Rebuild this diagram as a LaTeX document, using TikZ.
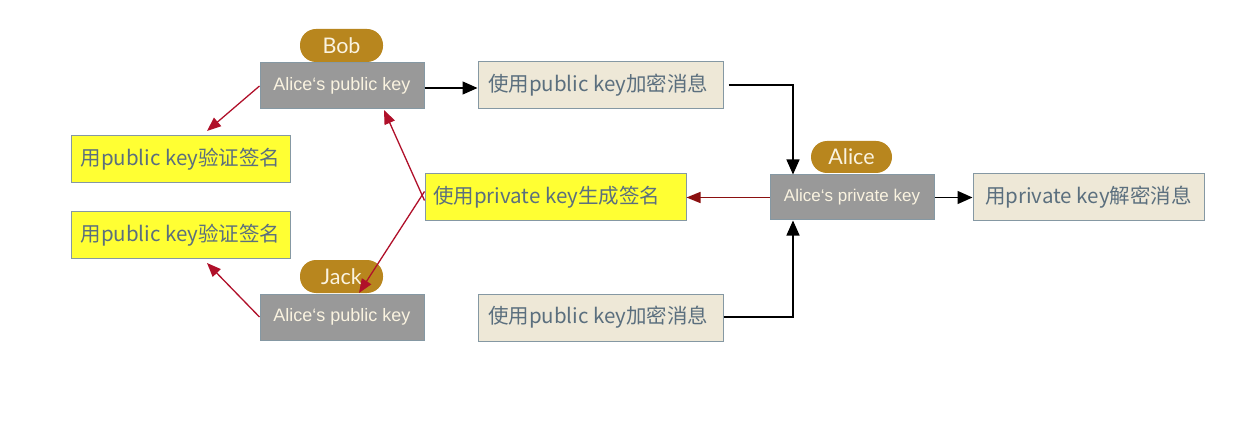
\documentclass[tikz,border=0pt]{standalone}
\usepackage{fontspec}
\setmainfont{Liberation Sans}
\newfontfamily\cjk{Noto Sans CJK SC}
\newfontfamily\pillfont{Lato}
\usetikzlibrary{arrows.meta}
\definecolor{pillgold}{HTML}{B8861E}
\definecolor{keygray}{HTML}{999999}
\definecolor{boxborder}{HTML}{8598A3}
\definecolor{beige}{HTML}{EEE8D7}
\definecolor{cjktext}{HTML}{5B6F7E}
\definecolor{ylw}{HTML}{FFFF33}
\definecolor{redline}{HTML}{B0102A}
\definecolor{darkred}{HTML}{8B1010}
\definecolor{cream}{HTML}{FAF3E0}
\begin{document}
\begin{tikzpicture}[x=1pt,y=-1pt,
  pill/.style={fill=pillgold, rounded corners=16pt, text=cream, minimum width=83pt, minimum height=33pt, inner sep=0pt, font=\pillfont\fontsize{21.5}{21.5}\selectfont},
  keybox/.style={fill=keygray, draw=boxborder, line width=1pt, text=cream, minimum width=164pt, minimum height=46pt, inner sep=0pt, font=\fontsize{18}{18}\selectfont},
  msgbox/.style={fill=beige, draw=boxborder, line width=1pt, text=cjktext, minimum height=47pt, inner sep=0pt, font=\cjk\fontsize{20.5}{20.5}\selectfont},
  ybox/.style={fill=ylw, draw=boxborder, line width=1pt, text=cjktext, minimum height=47pt, inner sep=0pt, font=\cjk\fontsize{20.5}{20.5}\selectfont},
  blk/.style={draw=black, line width=1.4pt, -{Triangle[length=15pt,width=13pt]}},
  red/.style={draw=redline, line width=1.3pt, -{Triangle[length=14pt,width=11pt]}},
  dred/.style={draw=darkred, line width=1.5pt, -{Triangle[length=14pt,width=11pt]}}
]
\useasboundingbox (0,0) rectangle (1258,422);
\fill[white] (0,0) rectangle (1258,422);

\node[pill] (bob) at (341.5,45.5) {Bob};
\node[keybox] (bobkey) at (342,86) {Alice‘s public key};
\node[msgbox, inner xsep=10pt] (enc1) at (600.5,85.5) {\makebox[225pt][l]{使用public key加密消息}};

\node[ybox, minimum width=219pt] (ver1) at (180.5,159.5) {用public key验证签名};
\node[ybox, minimum width=219pt] (ver2) at (180.5,235) {用public key验证签名};
\node[ybox, inner xsep=8pt] (sign) at (555.5,197.5) {\makebox[245pt][l]{使用private key生成签名}};

\node[pill, minimum width=81pt, minimum height=32pt] (alice) at (851.5,157) {Alice};
\node[keybox, minimum height=45pt, font=\fontsize{17}{17}\selectfont] (alicekey) at (852,197.5) {Alice‘s private key};
\node[msgbox, minimum width=231pt] (dec) at (1088.5,197.5) {用private key解密消息};

\node[pill] (jack) at (341.5,276.5) {Jack};
\node[keybox] (jackkey) at (342,317) {Alice‘s public key};
\node[msgbox, inner xsep=10pt] (enc2) at (600.5,317.5) {\makebox[225pt][l]{使用public key加密消息}};

\coordinate (c1) at (793,85);
\coordinate (c2) at (793,317);

\draw[blk] (bobkey.east |- 0,88) -- (enc1.west |- 0,88);
\draw[blk] ([xshift=5pt]enc1.east |- c1) -- (c1) -- (alicekey.north -| c1);
\draw[blk] (enc2.east |- c2) -- (c2) -- (alicekey.south -| c2);
\draw[blk] (alicekey.east) -- (dec.west);
\draw[dred] (alicekey.west) -- (sign.east);
\draw[red] ([yshift=-3pt]sign.west) -- (384,110);
\draw[red] ([yshift=6pt]sign.west) -- (359,293);
\draw[red] (bobkey.west) -- (207,131);
\draw[red] (jackkey.west) -- (207,263);
\end{tikzpicture}
\end{document}
